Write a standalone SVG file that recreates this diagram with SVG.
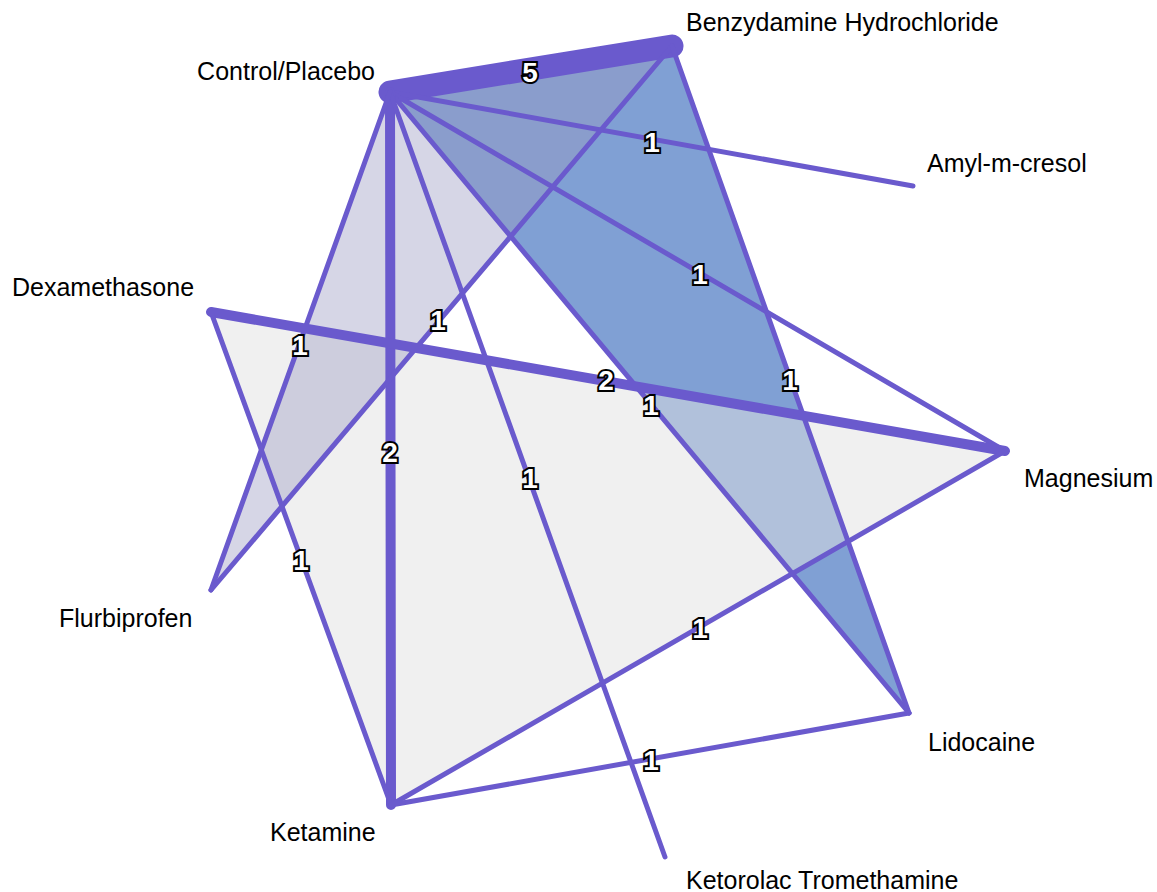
<svg xmlns="http://www.w3.org/2000/svg" width="1157" height="892" viewBox="0 0 1157 892">
<style>
.bg{fill:#ffffff}
.edge{stroke:#6a5acd;stroke-linecap:round;fill:none}
.w1{stroke-width:5}
.w2{stroke-width:10}
.w5{stroke-width:23}
.lbl{font-family:"Liberation Sans",Arial,sans-serif;font-size:25px;fill:#000}
.num{font-family:"Liberation Sans",Arial,sans-serif;font-size:28px;font-weight:bold;fill:#ffffff;stroke:#000;stroke-width:4;paint-order:stroke;text-anchor:middle;dominant-baseline:central}
</style>
<rect class="bg" x="0" y="0" width="1157" height="892"/>
<g id="polygons">
<polygon points="390,92 672,46 909,713" fill="#80a0d4"/>
<polygon points="211,312 1005,451 391,805" fill="#e1e1e1" fill-opacity="0.5"/>
<polygon points="390,92 672,46 211,590" fill="#9898c0" fill-opacity="0.4"/>
</g>
<g id="connectors">
<line class="edge w5" x1="390" y1="92" x2="672" y2="46"/>
<line class="edge w1" x1="390" y1="92" x2="913" y2="186"/>
<line class="edge w1" x1="390" y1="92" x2="1005" y2="451"/>
<line class="edge w1" x1="390" y1="92" x2="909" y2="713"/>
<line class="edge w2" x1="390" y1="92" x2="391" y2="805"/>
<line class="edge w1" x1="390" y1="92" x2="665" y2="857"/>
<line class="edge w1" x1="390" y1="92" x2="211" y2="590"/>
<line class="edge w1" x1="672" y1="46" x2="211" y2="590"/>
<line class="edge w1" x1="672" y1="46" x2="909" y2="713"/>
<line class="edge w2" x1="211" y1="312" x2="1005" y2="451"/>
<line class="edge w1" x1="211" y1="312" x2="391" y2="805"/>
<line class="edge w1" x1="391" y1="805" x2="1005" y2="451"/>
<line class="edge w1" x1="391" y1="805" x2="909" y2="713"/>
</g>
<g id="edge-labels">
<text class="num" x="530" y="72">5</text>
<text class="num" x="652" y="142">1</text>
<text class="num" x="700" y="274">1</text>
<text class="num" x="651" y="405">1</text>
<text class="num" x="606" y="380">2</text>
<text class="num" x="790" y="380">1</text>
<text class="num" x="438" y="320">1</text>
<text class="num" x="300" y="345">1</text>
<text class="num" x="390" y="452">2</text>
<text class="num" x="530" y="478">1</text>
<text class="num" x="301" y="560">1</text>
<text class="num" x="700" y="628">1</text>
<text class="num" x="651" y="760">1</text>
</g>
<g id="node-control"><text class="lbl" x="375" y="80" text-anchor="end">Control/Placebo</text></g>
<g id="node-benzydamine"><text class="lbl" x="686" y="31">Benzydamine Hydrochloride</text></g>
<g id="node-amyl"><text class="lbl" x="927" y="172">Amyl-m-cresol</text></g>
<g id="node-dexamethasone"><text class="lbl" x="12" y="296">Dexamethasone</text></g>
<g id="node-magnesium"><text class="lbl" x="1024" y="487">Magnesium</text></g>
<g id="node-flurbiprofen"><text class="lbl" x="59" y="627">Flurbiprofen</text></g>
<g id="node-lidocaine"><text class="lbl" x="928" y="751">Lidocaine</text></g>
<g id="node-ketamine"><text class="lbl" x="270" y="841">Ketamine</text></g>
<g id="node-ketorolac"><text class="lbl" x="686" y="889">Ketorolac Tromethamine</text></g>
</svg>
